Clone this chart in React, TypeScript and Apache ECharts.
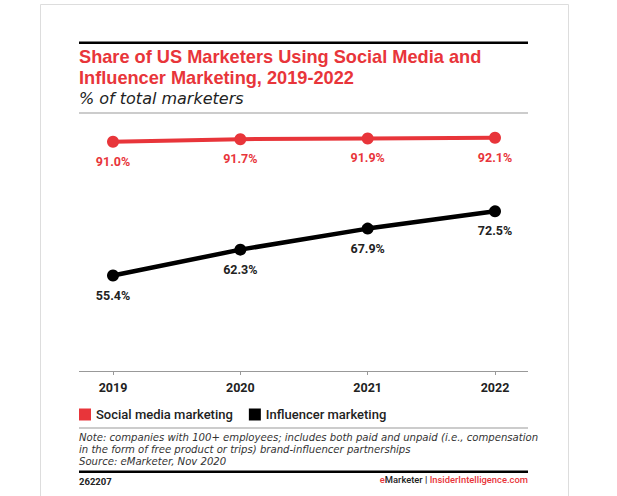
import React, { useEffect, useRef } from "react";
import * as echarts from "echarts";

const years = ["2019", "2020", "2021", "2022"];
const socialMedia = [91.0, 91.7, 91.9, 92.1];
const influencer = [55.4, 62.3, 67.9, 72.5];
const titleLines = [
  "Share of US Marketers Using Social Media and",
  "Influencer Marketing, 2019-2022",
];
const subtitle = "% of total marketers";
const noteLines = [
  "Note: companies with 100+ employees; includes both paid and unpaid (i.e., compensation",
  "in the form of free product or trips) brand-influencer partnerships",
  "Source: eMarketer, Nov 2020",
];
const chartId = "262207";

const RED = "#e8353a";
const FONT = "Roboto, 'Noto Sans', sans-serif";
const LIB = "'Liberation Sans', Arial, sans-serif";
const DJ = "'DejaVu Sans', 'Open Sans', sans-serif";

export default function App() {
  const ref = useRef<HTMLDivElement>(null);
  useEffect(() => {
    if (!ref.current) return;
    const chart = echarts.init(ref.current, undefined, { renderer: "svg" });
    chart.setOption({
      animation: false,
      backgroundColor: "#ffffff",
      textStyle: { fontFamily: FONT },
      grid: { left: 113, right: 122, top: 108, bottom: 125, containLabel: false },
      legend: {
        left: 74,
        top: 403,
        icon: "rect",
        itemWidth: 12,
        itemHeight: 12,
        itemGap: 16,
        textStyle: { fontSize: 13, fontWeight: 500, color: "#222", fontFamily: FONT },
        data: ["Social media marketing", "Influencer marketing"],
      },
      xAxis: {
        type: "category",
        data: years,
        boundaryGap: false,
        axisLine: { show: false },
        axisTick: { show: true, length: 4, lineStyle: { color: "#999" } },
        axisLabel: { fontSize: 12.5, fontWeight: "bold", color: "#222", margin: 10, fontFamily: FONT },
      },
      yAxis: {
        type: "value",
        min: 30,
        max: 100,
        show: false,
        splitLine: { show: false },
      },
      series: [
        {
          name: "Social media marketing",
          type: "line",
          data: socialMedia,
          color: RED,
          symbol: "circle",
          symbolSize: 12,
          lineStyle: { width: 4, color: RED },
          itemStyle: { color: RED },
          label: {
            show: true,
            position: "bottom",
            distance: 7,
            formatter: (p: any) => p.value.toFixed(1) + "%",
            fontSize: 12.5,
            fontWeight: "bold",
            color: RED,
            fontFamily: FONT,
          },
        },
        {
          name: "Influencer marketing",
          type: "line",
          data: influencer,
          color: "#000",
          symbol: "circle",
          symbolSize: 12,
          lineStyle: { width: 4.5, color: "#000" },
          itemStyle: { color: "#000" },
          label: {
            show: true,
            position: "bottom",
            distance: 7,
            formatter: (p: any) => p.value.toFixed(1) + "%",
            fontSize: 12.5,
            fontWeight: "bold",
            color: "#222",
            fontFamily: FONT,
          },
        },
      ],
      graphic: [
        { type: "rect", shape: { x: 40.5, y: 4.5, width: 528, height: 500 }, style: { fill: "none", stroke: "#dddddd", lineWidth: 1 }, z: -1 },
        { type: "rect", shape: { x: 79, y: 41.5, width: 449, height: 2.5 }, style: { fill: "#000" } },
        ...titleLines.map((t, i) => ({
          type: "text",
          left: 79,
          top: 47 + i * 20.5,
          style: { text: t, fill: RED, font: `bold 18.2px ${LIB}`, lineHeight: 20 },
        })),
        {
          type: "text",
          left: 79,
          top: 89,
          style: { text: subtitle, fill: "#222", font: `oblique 16px ${DJ}`, lineHeight: 18 },
        },
        { type: "rect", shape: { x: 79, y: 112.5, width: 449, height: 1 }, style: { fill: "#999" } },
        { type: "rect", shape: { x: 79, y: 371, width: 449, height: 1 }, style: { fill: "#999" } },
        { type: "rect", shape: { x: 79, y: 427.5, width: 449, height: 1 }, style: { fill: "#999" } },
        ...noteLines.map((t, i) => ({
          type: "text",
          left: 79,
          top: 432 + i * 12,
          style: { text: t, fill: "#333", font: `oblique 10.1px ${DJ}`, lineHeight: 11.5 },
        })),
        { type: "rect", shape: { x: 79, y: 470.5, width: 449, height: 2.5 }, style: { fill: "#000" } },
        {
          type: "text",
          left: 79,
          top: 476,
          style: { text: chartId, fill: "#222", font: `bold 9.5px ${FONT}` },
        },
        {
          type: "text",
          right: 617 - 528,
          top: 475,
          style: {
            text: "{r|e}{k|Marketer | }{r|InsiderIntelligence.com}",
            rich: {
              r: { fill: RED, font: `500 9.4px ${FONT}` },
              k: { fill: "#222", font: `500 9.4px ${FONT}` },
            },
          },
        },
      ],
    });
    return () => chart.dispose();
  }, []);
  return (
    <div
      ref={ref}
      style={{ position: "fixed", left: 0, top: 0, width: 617, height: 496 }}
    />
  );
}
